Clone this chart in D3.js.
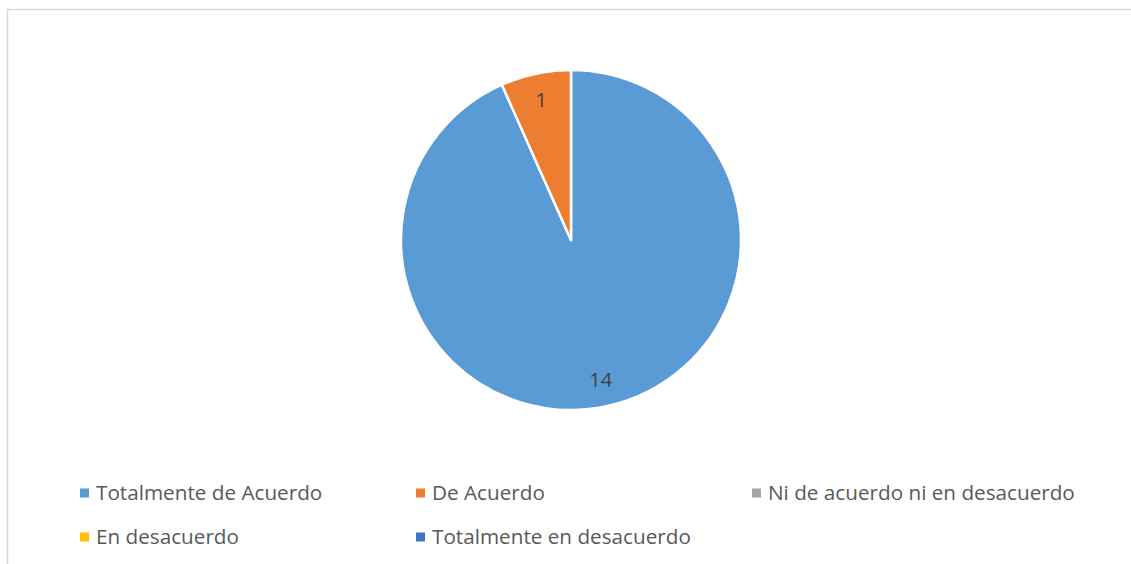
<!DOCTYPE html>
<html>
<head>
<meta charset="utf-8">
<script src="https://cdn.jsdelivr.net/npm/d3@7"></script>
<style>
  html, body { margin: 0; padding: 0; background: #fff; }
  svg { display: block; font-family: "Open Sans", "Liberation Sans", sans-serif; }
</style>
</head>
<body>
<div id="chart"></div>
<script>
const categories = ["Totalmente de Acuerdo", "De Acuerdo", "Ni de acuerdo ni en desacuerdo", "En desacuerdo", "Totalmente en desacuerdo"];
const values = [14, 1, 0, 0, 0];
const colors = ["#5B9BD5", "#ED7D31", "#A5A5A5", "#FFC000", "#4472C4"];

const width = 1131, height = 564;
const cx = 571, cy = 240, radius = 170;

const svg = d3.select("#chart").append("svg")
  .attr("width", width)
  .attr("height", height);

// chart frame (runs off the right and bottom of the picture)
svg.append("rect")
  .attr("x", 7.5).attr("y", 9.5)
  .attr("width", width + 20).attr("height", height + 20)
  .attr("fill", "none")
  .attr("stroke", "#d9d9d9")
  .attr("stroke-width", 1.5);

const data = categories.map((c, i) => ({ name: c, value: values[i], color: colors[i] }));

const pie = d3.pie().value(d => d.value).sort(null);
const arc = d3.arc().innerRadius(0).outerRadius(radius);
const labelArc = d3.arc().innerRadius(radius * 0.84).outerRadius(radius * 0.84);

const g = svg.append("g").attr("transform", `translate(${cx},${cy})`);
const arcs = pie(data).filter(d => d.data.value > 0);

g.selectAll("path")
  .data(arcs)
  .join("path")
  .attr("d", arc)
  .attr("fill", d => d.data.color)
  .attr("stroke", "#fff")
  .attr("stroke-width", 2.5)
  .attr("stroke-linejoin", "round");

g.selectAll("text")
  .data(arcs)
  .join("text")
  .attr("transform", d => `translate(${labelArc.centroid(d)})`)
  .attr("text-anchor", "middle")
  .attr("dy", "0.35em")
  .attr("fill", "#404040")
  .attr("font-size", 20)
  .text(d => d.data.value);

// legend, 3 columns x 2 rows
const colX = [80, 416, 752];
const rowY = [493, 537];
const legend = svg.append("g");
const items = legend.selectAll("g")
  .data(data)
  .join("g")
  .attr("transform", (d, i) => `translate(${colX[i % 3]},${rowY[Math.floor(i / 3)]})`);

items.append("rect")
  .attr("x", 0).attr("y", -4.5)
  .attr("width", 9).attr("height", 9)
  .attr("fill", d => d.color);

items.append("text")
  .attr("x", 16)
  .attr("dy", "0.35em")
  .attr("fill", "#595959")
  .attr("font-size", 20.7)
  .text(d => d.name);
</script>
</body>
</html>
